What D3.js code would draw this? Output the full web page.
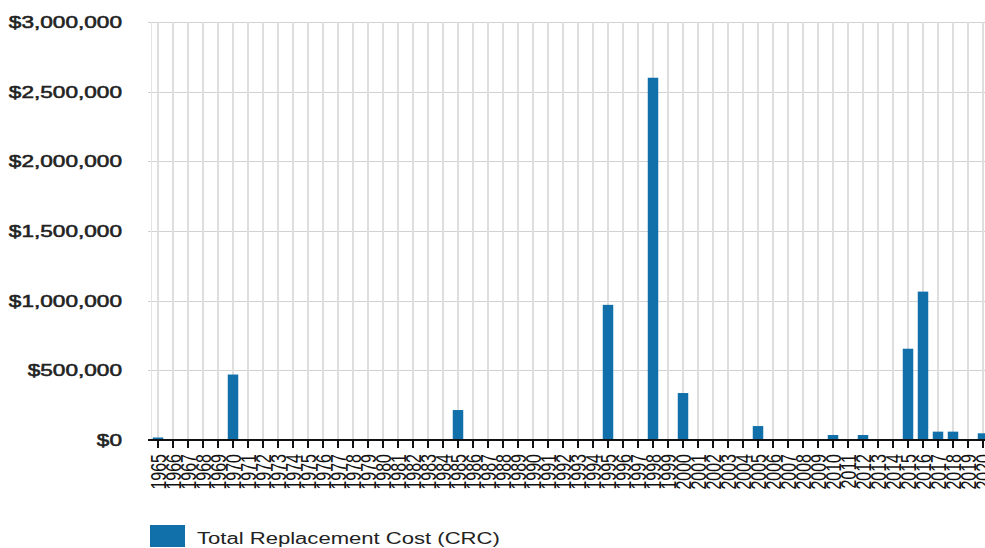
<!DOCTYPE html>
<html>
<head>
<meta charset="utf-8">
<script src="https://cdn.jsdelivr.net/npm/d3@7"></script>
<style>
  html, body { margin: 0; padding: 0; background: #fff; }
  svg { display: block; }
  text { font-family: "Liberation Sans", Arial, sans-serif; }
</style>
</head>
<body>
<svg id="chart" width="985" height="548"></svg>
<script>
const years = ["1965","1966","1967","1968","1969","1970","1971","1972","1973","1974",
  "1975","1976","1977","1978","1979","1980","1981","1982","1983","1984",
  "1985","1986","1987","1988","1989","1990","1991","1992","1993","1994",
  "1995","1996","1997","1998","1999","2000","2001","2002","2003","2004",
  "2005","2006","2007","2008","2009","2010","2011","2012","2013","2014",
  "2015","2016","2017","2018","2019","2020"];
const totalReplacementCost = [18000,0,0,0,0,470000,0,0,0,0,
  0,0,0,0,0,0,0,0,0,0,
  215000,0,0,0,0,0,0,0,0,0,
  970000,0,0,2600000,0,337000,0,0,0,0,
  100000,0,0,0,0,36000,0,36000,0,0,
  655000,1065000,60000,60000,0,48000];
const yTicks = [0, 500000, 1000000, 1500000, 2000000, 2500000, 3000000];
const seriesName = "Total Replacement Cost (CRC)";

const svg = d3.select("#chart");
const barColor = "#1170aa";
const sx = 1.33;

const x = d3.scaleBand().domain(years).range([150.5, 990.5]).paddingInner(0.3).paddingOuter(0.15);
const y = d3.scaleLinear().domain([0, 3000000]).range([440, 22]);
const fmt = v => "$" + d3.format(",")(v);

// horizontal gridlines
svg.append("g").selectAll("line").data(yTicks).join("line")
  .attr("x1", 148).attr("x2", 985)
  .attr("y1", d => Math.round(y(d)) + 0.5).attr("y2", d => Math.round(y(d)) + 0.5)
  .attr("stroke", "#d2d2d2").attr("stroke-width", 1);

// vertical gridlines
svg.append("g").selectAll("line").data(years).join("line")
  .attr("x1", d => x(d) + x.bandwidth() / 2).attr("x2", d => x(d) + x.bandwidth() / 2)
  .attr("y1", y(3000000)).attr("y2", y(0))
  .attr("stroke", "#dedede").attr("stroke-width", 2);

// left boundary
svg.append("line").attr("x1", 151.5).attr("x2", 151.5).attr("y1", y(3000000)).attr("y2", y(0))
  .attr("stroke", "#e4e4e4").attr("stroke-width", 1);

// bars
svg.append("g").selectAll("rect").data(years).join("rect")
  .attr("x", d => x(d))
  .attr("width", x.bandwidth())
  .attr("y", (d, i) => y(totalReplacementCost[i]))
  .attr("height", (d, i) => y(0) - y(totalReplacementCost[i]))
  .attr("fill", barColor);

// y labels
svg.append("g").selectAll("text").data(yTicks).join("text")
  .attr("transform", d => `translate(122,${y(d)}) scale(${sx},1)`)
  .attr("text-anchor", "end")
  .attr("dy", "0.36em")
  .attr("font-size", 17)
  .attr("fill", "#222")
  .attr("stroke", "#222")
  .attr("stroke-width", 0.55)
  .text(fmt);

// x axis line
svg.append("line").attr("x1", 148).attr("x2", 985).attr("y1", 440).attr("y2", 440)
  .attr("stroke", "#111").attr("stroke-width", 2);

// ticks
svg.append("g").selectAll("line").data(years).join("line")
  .attr("x1", d => x(d) + x.bandwidth() / 2).attr("x2", d => x(d) + x.bandwidth() / 2)
  .attr("y1", 440).attr("y2", 448)
  .attr("stroke", "#111").attr("stroke-width", 2);

// x labels
svg.append("g").selectAll("text").data(years).join("text")
  .attr("transform", d => `translate(${x(d) + x.bandwidth() / 2},454) scale(${sx},1) rotate(-90)`)
  .attr("text-anchor", "end")
  .attr("dy", "0.36em")
  .attr("font-size", 16)
  .attr("fill", "#111")
  .text(d => d);

// legend
svg.append("rect").attr("x", 150).attr("y", 525).attr("width", 35).attr("height", 22).attr("fill", barColor);
svg.append("text")
  .attr("transform", `translate(197,543.5) scale(1.38,1)`)
  .attr("font-size", 16)
  .attr("fill", "#222")
  .text(seriesName);
</script>
</body>
</html>
